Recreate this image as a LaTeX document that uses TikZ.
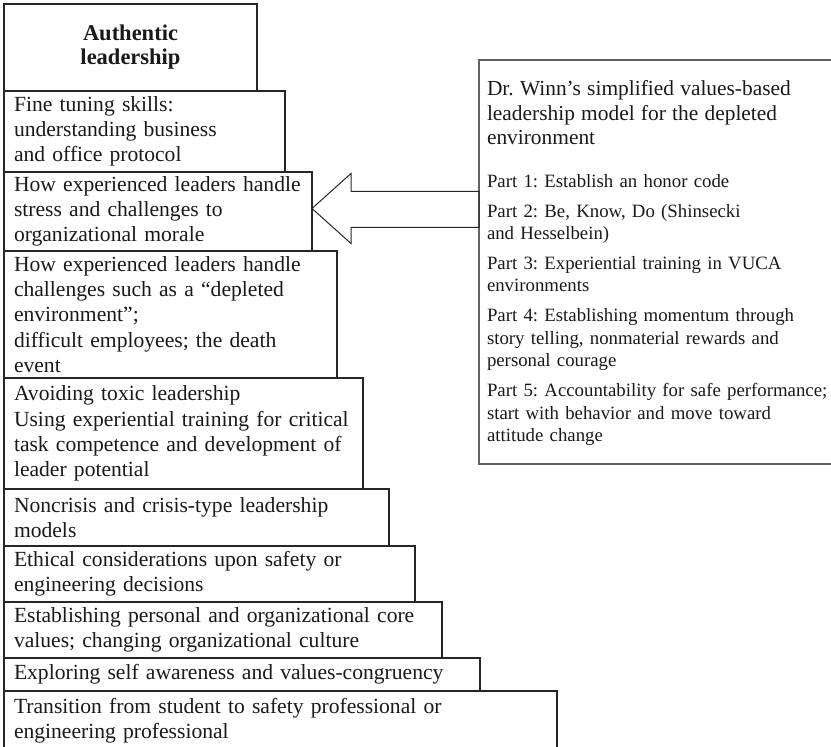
\documentclass[tikz,border=0pt]{standalone}
\usepackage{fontspec}
\setmainfont{Liberation Serif}
\usetikzlibrary{positioning,calc}
\newcommand{\hdfont}{\fontsize{10.7}{12.2}\selectfont}
\tikzset{
x=0.5pt,y=-0.5pt,
tier/.style 2 args={rectangle,draw=black!85,line width=0.6pt,outer sep=0pt,
	inner xsep=0pt,inner ysep=1pt,text width=#1,minimum height=#2,
	align=left,text=black!90,font=\fontsize{10.8}{12.65}\selectfont\frenchspacing,
	execute at begin node={\leftskip=5pt\relax}},
crown/.style={rectangle,draw=black!85,line width=0.6pt,outer sep=0pt,
	minimum width=126.5pt,minimum height=43.5pt,align=center,text=black!90,
	font=\bfseries\fontsize{11.25}{12}\selectfont},
mb/.style={rectangle,draw=black!62,line width=0.9pt,outer sep=0pt,
	inner xsep=4pt,inner ysep=0pt,text width=176pt,text height=18pt,text depth=184pt,
	align=left,text=black!90,font=\fontsize{9.4}{11.2}\selectfont\frenchspacing},
blk/.style={draw=black!85,line width=0.5pt,line join=miter},
}
\begin{document}
\begin{tikzpicture}
	\useasboundingbox (0,0) rectangle (831,747);

	\node[crown,anchor=north west] (auth) at (4,4) {Authentic\\leadership};
	\node[tier={140.5pt}{40.5pt},below=0pt of auth.south west,anchor=north west] (fine)
		{Fine tuning skills:\\understanding business\\and office protocol};
	\node[tier={154pt}{39.5pt},below=0pt of fine.south west,anchor=north west] (stress)
		{How experienced leaders handle\\stress and challenges to\\organizational morale};
	\node[tier={166.5pt}{63.5pt},below=0pt of stress.south west,anchor=north west] (depl)
		{How experienced leaders handle\\challenges such as a “depleted\\environment”;\\difficult employees; the death\\event};
	\node[tier={179.5pt}{55.5pt},below=0pt of depl.south west,anchor=north west] (toxic)
		{Avoiding toxic leadership\\Using experiential training for critical\\task competence and development of\\leader potential};
	\node[tier={192.5pt}{28.5pt},below=0pt of toxic.south west,anchor=north west] (crisis)
		{Noncrisis and crisis-type leadership\\models};
	\node[tier={205.5pt}{28pt},below=0pt of crisis.south west,anchor=north west] (ethic)
		{Ethical considerations upon safety or\\engineering decisions};
	\node[tier={219pt}{28pt},below=0pt of ethic.south west,anchor=north west] (core)
		{Establishing personal and organizational core\\values; changing organizational culture};
	\node[tier={238pt}{16.5pt},below=0pt of core.south west,anchor=north west] (aware)
		{Exploring self awareness and values-congruency};
	\node[tier={276.5pt}{29.5pt},below=0pt of aware.south west,anchor=north west] (trans)
		{Transition from student to safety professional or\\engineering professional};

	\node[mb,anchor=north west] (winn) at (479,60) {%
		{\hdfont Dr.\ Winn’s simplified values-based\\leadership model for the depleted\\environment\par}
		\vspace{10pt}
		Part 1: Establish an honor code\par\vspace{3.8pt}
		Part 2: Be, Know, Do (Shinsecki\\and Hesselbein)\par\vspace{3.8pt}
		Part 3: Experiential training in VUCA\\environments\par\vspace{3.8pt}
		Part 4: Establishing momentum through\\story telling, nonmaterial rewards and\\personal courage\par\vspace{3.8pt}
		Part 5: Accountability for safe performance;\\start with behavior and move toward\\attitude change};

	\coordinate (tip) at ([yshift=1.5pt]stress.east);
	\draw[blk] (tip) -- ++(39,-35) -- ++(0,18) coordinate (s1) -- (s1 -| winn.west)
		-- ++(0,36) coordinate (s2) -- (s2 -| s1) -- ++(0,16) -- cycle;
\end{tikzpicture}
\end{document}
